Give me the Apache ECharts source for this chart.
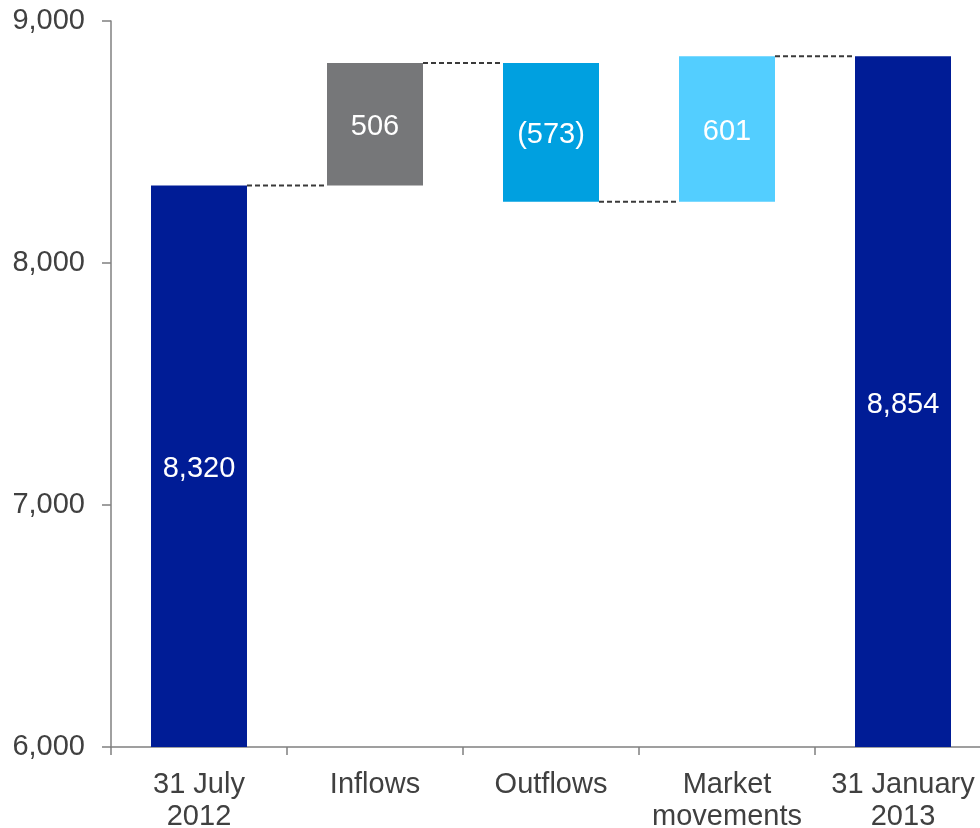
<!DOCTYPE html>
<html>
<head>
<meta charset="utf-8">
<script src="https://cdn.jsdelivr.net/npm/echarts@6/dist/echarts.min.js"></script>
<style>
  html, body { margin: 0; padding: 0; background: #fff; }
  #chart { width: 980px; height: 828px; }
</style>
</head>
<body>
<div id="chart"></div>
<script>
// Funds under management bridge (waterfall)
const categories = ['31 July\n2012', 'Inflows', 'Outflows', 'Market\nmovements', '31 January\n2013'];
const openingValue = 8320;
const movements = [506, -573, 601];
const closingValue = 8854;
const barColors = ['#001C96', '#767779', '#00A0E0', '#53CEFF', '#001C96'];
const yTicks = { min: 6000, max: 9000, interval: 1000 };

// Build the floating segments: each movement starts where the previous level ended
const base = [];
const height = [];
const levels = [];          // running level after each bar, used for the connectors
const labels = [];
const fmt = v => v.toLocaleString('en-US');

base.push(0); height.push(openingValue); labels.push(fmt(openingValue));
let level = openingValue;
levels.push(level);
movements.forEach(m => {
  const next = level + m;
  base.push(Math.min(level, next));
  height.push(Math.abs(m));
  labels.push(m < 0 ? '(' + fmt(-m) + ')' : fmt(m));
  level = next;
  levels.push(level);
});
base.push(0); height.push(closingValue); labels.push(fmt(closingValue));

const BAR_W = 96;
const FONT = '"Liberation Sans", Arial, sans-serif';
const TEXT = '#404040';
const AXIS = '#808080';

// Connector segments: from the right edge of bar i to the left edge of bar i+1
const connectorData = levels.map((lv, i) => [i, lv]);

const chart = echarts.init(document.getElementById('chart'));
chart.setOption({
  animation: false,
  backgroundColor: '#ffffff',
  grid: { left: 111, width: 880, top: 21, bottom: 81, outerBoundsMode: 'none', containLabel: false },
  xAxis: {
    type: 'category',
    data: categories,
    boundaryGap: true,
    axisLine: { show: true, lineStyle: { color: AXIS, width: 1.5 } },
    axisTick: { show: true, length: 8, lineStyle: { color: AXIS, width: 1.5 } },
    axisLabel: {
      interval: 0, margin: 22,
      fontFamily: FONT, fontSize: 29, lineHeight: 32, color: TEXT
    },
    splitLine: { show: false }
  },
  yAxis: {
    type: 'value',
    min: yTicks.min, max: yTicks.max, interval: yTicks.interval,
    axisLine: { show: true, lineStyle: { color: AXIS, width: 1.5 } },
    axisTick: { show: true, length: 9, lineStyle: { color: AXIS, width: 1.5 } },
    axisLabel: { margin: 26, fontFamily: FONT, fontSize: 29, color: TEXT },
    splitLine: { show: false }
  },
  series: [
    {
      name: 'base',
      type: 'bar',
      stack: 'bridge',
      barWidth: BAR_W,
      silent: true,
      itemStyle: { color: 'transparent' },
      data: base
    },
    {
      name: 'value',
      type: 'bar',
      stack: 'bridge',
      barWidth: BAR_W,
      clip: true,
      data: height.map((h, i) => ({ value: h, itemStyle: { color: barColors[i] } })),
      label: {
        show: true,
        position: 'inside',
        offset: [0, 3],
        color: '#ffffff',
        fontFamily: FONT,
        fontSize: 29,
        formatter: p => labels[p.dataIndex]
      }
    },
    {
      name: 'connectors',
      type: 'custom',
      silent: true,
      z: 3,
      data: connectorData,
      renderItem: (params, api) => {
        const i = api.value(0);
        const lv = api.value(1);
        const a = api.coord([i, lv]);
        const b = api.coord([i + 1, lv]);
        return {
          type: 'line',
          shape: { x1: a[0] + BAR_W / 2, y1: a[1], x2: b[0] - BAR_W / 2, y2: b[1] },
          style: { stroke: '#3a3a3a', lineWidth: 2, lineDash: [5, 3] }
        };
      }
    }
  ]
});
</script>
</body>
</html>
